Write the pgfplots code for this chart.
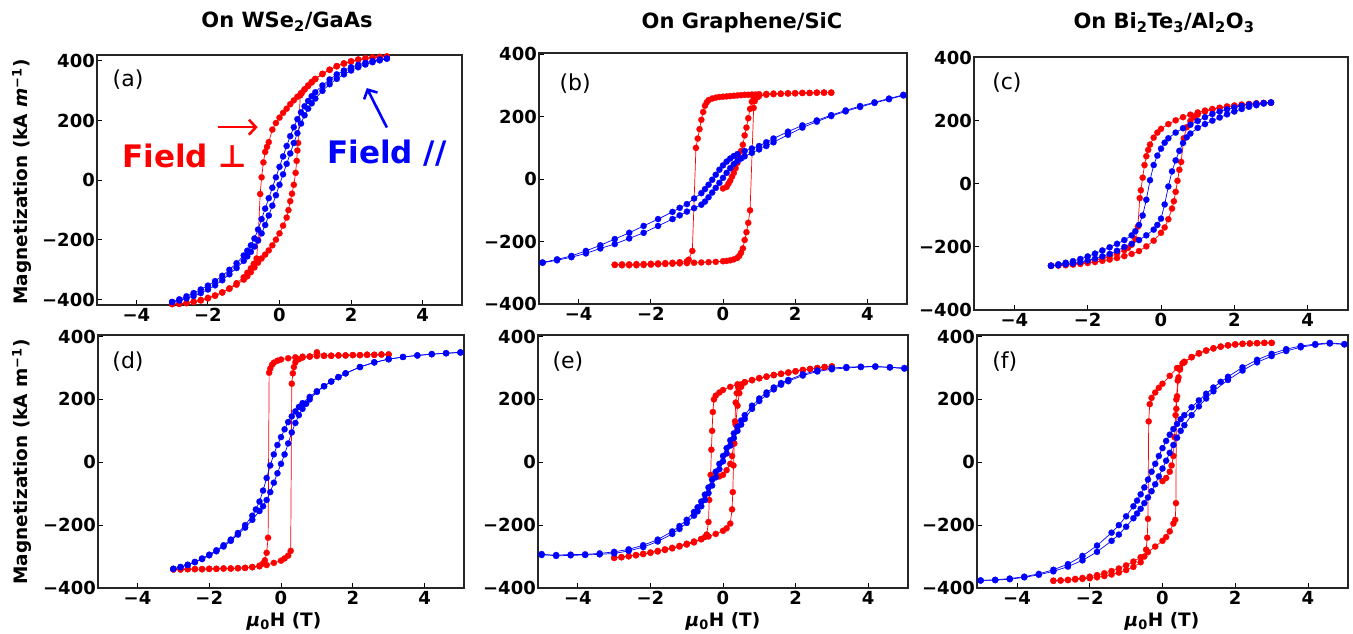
\documentclass[border=0pt]{standalone}
\usepackage{fontspec}
\setmainfont{DejaVu Sans}
\usepackage{pgfplots}
\pgfplotsset{compat=1.18}
\usetikzlibrary{arrows.meta}
\definecolor{mred}{RGB}{255,0,0}
\definecolor{mblue}{RGB}{0,0,255}
\pgfplotsset{
 panel/.style={scale only axis, xmin=-5.1, xmax=5.1,
   xtick={-4,-2,0,2,4}, xticklabels={−4,−2,0,2,4},
   ytick={-400,-200,0,200,400}, yticklabels={−400,−200,0,200,400},
   tick align=inside, xtick pos=bottom, ytick pos=left,
   major tick length=5pt, tick style={black, line width=1pt},
   axis line style={line width=1.3pt, black!85},
   ticklabel style={font=\fontsize{18}{20}\selectfont\bfseries},
   yticklabel style={inner sep=2pt}, xticklabel style={inner sep=3pt}},
 rs/.style={mred, line width=0.7pt, mark=*, mark size=3.1pt, mark options={line width=0.2pt}},
 bs/.style={mblue, line width=0.7pt, mark=*, mark size=3.1pt, mark options={line width=0.2pt}},
}
\tikzset{plab/.style={font=\fontsize{22}{24}\selectfont\mdseries}}
\begin{document}
\begin{tikzpicture}
\useasboundingbox (0,0) rectangle (1353pt,634pt);
% ---------- (a)
\begin{axis}[panel, at={(97pt,329pt)}, anchor=south west, width=365pt, height=250pt, ymin=-418, ymax=420]
\addplot[rs] coordinates {(3.0,415) (2.8,414) (2.6,412) (2.4,409) (2.2,405) (2.0,399) (1.8,392) (1.6,383) (1.4,371) (1.2,357) (1.0,340) (0.9,330) (0.8,318) (0.7,305) (0.6,292) (0.5,280) (0.4,268) (0.3,255) (0.2,240) (0.1,226) (0.0,210) (-0.1,192) (-0.2,170) (-0.3,128) (-0.35,112) (-0.4,95) (-0.45,60) (-0.5,10) (-0.54,-46) (-0.6,-200) (-0.64,-262) (-0.72,-280) (-0.8,-295) (-0.9,-310) (-1.0,-325) (-1.2,-345) (-1.4,-362) (-1.6,-376) (-1.8,-387) (-2.0,-396) (-2.2,-403) (-2.4,-408) (-2.6,-412) (-2.8,-414) (-3.0,-415)};
\addplot[rs] coordinates {(-3.0,-415) (-2.8,-414) (-2.6,-411) (-2.4,-407) (-2.2,-401) (-2.0,-394) (-1.8,-386) (-1.6,-376) (-1.4,-364) (-1.2,-350) (-1.0,-333) (-0.9,-322) (-0.8,-308) (-0.7,-292) (-0.6,-276) (-0.5,-262) (-0.4,-249) (-0.3,-235) (-0.2,-218) (-0.1,-199) (0.0,-178) (0.1,-152) (0.2,-125) (0.25,-100) (0.3,-70) (0.35,-45) (0.4,-15) (0.45,25) (0.48,65) (0.5,100) (0.52,125) (0.58,285) (0.62,292) (0.7,304) (0.8,316) (0.9,328) (1.0,339) (1.2,356) (1.4,370) (1.6,382) (1.8,391) (2.0,398) (2.2,404) (2.4,408) (2.6,411) (2.8,413) (3.0,415)};
\addplot[bs] coordinates {(3.0,408) (2.8,405) (2.6,400) (2.4,394) (2.2,387) (2.0,379) (1.8,368) (1.6,355) (1.4,338) (1.2,318) (1.0,295) (0.9,282) (0.8,266) (0.7,248) (0.6,228) (0.5,205) (0.4,178) (0.3,148) (0.2,115) (0.1,80) (0.0,45) (-0.1,10) (-0.2,-25) (-0.3,-60) (-0.4,-95) (-0.5,-130) (-0.6,-165) (-0.7,-195) (-0.8,-218) (-0.9,-236) (-1.0,-252) (-1.2,-278) (-1.4,-300) (-1.6,-320) (-1.8,-338) (-2.0,-353) (-2.2,-366) (-2.4,-378) (-2.6,-389) (-2.8,-399) (-3.0,-408)};
\addplot[bs] coordinates {(-3.0,-408) (-2.8,-403) (-2.6,-396) (-2.4,-388) (-2.2,-378) (-2.0,-366) (-1.8,-352) (-1.6,-335) (-1.4,-315) (-1.2,-294) (-1.0,-270) (-0.9,-255) (-0.8,-240) (-0.7,-222) (-0.6,-202) (-0.5,-178) (-0.4,-150) (-0.3,-118) (-0.2,-85) (-0.1,-50) (0.0,-15) (0.1,20) (0.2,55) (0.3,90) (0.4,125) (0.5,158) (0.6,190) (0.7,218) (0.8,240) (0.9,258) (1.0,274) (1.2,300) (1.4,322) (1.6,340) (1.8,355) (2.0,368) (2.2,379) (2.4,388) (2.6,396) (2.8,402) (3.0,408)};
\node[plab] at (rel axis cs:0.085,0.9) {(a)};
\node[mred, font=\fontsize{31}{33}\selectfont\bfseries] at (axis cs:-2.65,83) {Field ⊥};
\node[mblue, font=\fontsize{31}{33}\selectfont\bfseries] at (axis cs:3.0,90) {Field //};
\draw[mred, line width=2.6pt, -{Straight Barb[length=7pt,width=15pt]}] (axis cs:-1.73,178) -- (axis cs:-0.61,178);
\draw[mblue, line width=2.6pt, -{Straight Barb[length=7pt,width=15pt]}] (axis cs:3.0,177) -- (axis cs:2.44,309);
\end{axis}
% ---------- (b)
\begin{axis}[panel, at={(539pt,330pt)}, anchor=south west, width=368pt, height=251pt, ymin=-400, ymax=404]
\addplot[rs] coordinates {(3.0,277) (2.8,277) (2.6,277) (2.4,276) (2.2,276) (2.0,275) (1.8,275) (1.6,274) (1.4,274) (1.2,273) (1.0,272) (0.9,271) (0.8,271) (0.7,270) (0.6,270) (0.5,269) (0.4,268) (0.3,267) (0.2,266) (0.1,265) (0.0,264) (-0.1,263) (-0.2,261) (-0.3,258) (-0.4,253) (-0.45,246) (-0.5,235) (-0.55,215) (-0.6,190) (-0.65,160) (-0.7,130) (-0.75,100) (-0.85,-230) (-0.95,-258) (-1.0,-263) (-1.2,-266) (-1.4,-268) (-1.6,-269) (-1.8,-270) (-2.0,-271) (-2.2,-272) (-2.4,-272) (-2.6,-273) (-2.8,-273) (-3.0,-274)};
\addplot[rs] coordinates {(-3.0,-275) (-2.8,-276) (-2.6,-276) (-2.4,-276) (-2.2,-275) (-2.0,-274) (-1.8,-273) (-1.6,-272) (-1.4,-271) (-1.2,-270) (-1.0,-269) (-0.8,-268) (-0.6,-267) (-0.4,-266) (-0.2,-265) (0.0,-263) (0.1,-262) (0.2,-260) (0.3,-257) (0.4,-252) (0.45,-246) (0.5,-236) (0.55,-222) (0.6,-195) (0.65,-170) (0.7,-140) (0.75,-100) (0.85,228) (0.88,250) (0.95,262) (1.0,266) (1.2,270) (1.4,272) (1.6,273) (1.8,274) (2.0,275) (2.2,276) (2.4,276) (2.6,277) (2.8,277) (3.0,277)};
\addplot[rs] coordinates {(0.0,-30) (0.1,-25) (0.15,-15) (0.2,-5) (0.25,8) (0.3,20) (0.35,35) (0.4,52) (0.45,70) (0.5,90) (0.55,110) (0.6,140) (0.65,165) (0.7,195) (0.75,225) (0.8,248) (0.85,260) (0.9,266)};
\addplot[bs] coordinates {(5.0,270) (4.6,258) (4.2,246) (3.8,234) (3.4,220) (3.0,205) (2.6,188) (2.2,172) (1.8,152) (1.4,130) (1.2,118) (1.0,106) (0.8,98) (0.6,90) (0.4,80) (0.3,74) (0.2,66) (0.1,56) (0.0,44) (-0.1,30) (-0.2,14) (-0.3,-2) (-0.4,-18) (-0.5,-32) (-0.6,-45) (-0.8,-62) (-1.0,-80) (-1.2,-92) (-1.4,-105) (-1.8,-128) (-2.2,-150) (-2.6,-172) (-3.0,-192) (-3.4,-212) (-3.8,-230) (-4.2,-246) (-4.6,-257) (-5.0,-267)};
\addplot[bs] coordinates {(-5.0,-268) (-4.6,-260) (-4.2,-250) (-3.8,-238) (-3.4,-222) (-3.0,-208) (-2.6,-190) (-2.2,-172) (-1.8,-150) (-1.4,-128) (-1.2,-116) (-1.0,-104) (-0.8,-93) (-0.6,-82) (-0.5,-72) (-0.4,-58) (-0.3,-43) (-0.2,-28) (-0.1,-12) (0.0,4) (0.1,20) (0.2,35) (0.3,48) (0.4,58) (0.5,66) (0.6,73) (0.8,84) (1.0,95) (1.2,106) (1.4,118) (1.8,142) (2.2,165) (2.6,184) (3.0,202) (3.4,217) (3.8,231) (4.2,244) (4.6,256) (5.0,268)};
\node[plab] at (rel axis cs:0.098,0.88) {(b)};
\end{axis}
% ---------- (c)
\begin{axis}[panel, at={(974pt,324pt)}, anchor=south west, width=374pt, height=253pt, ymin=-400, ymax=403]
\addplot[rs] coordinates {(3.0,258) (2.8,257) (2.6,256) (2.4,254) (2.2,252) (2.0,249) (1.8,246) (1.6,242) (1.4,238) (1.2,233) (1.0,227) (0.8,220) (0.6,212) (0.4,202) (0.2,190) (0.0,175) (-0.1,163) (-0.2,147) (-0.3,125) (-0.35,108) (-0.4,88) (-0.45,60) (-0.5,20) (-0.55,-20) (-0.58,-45) (-0.63,-135) (-0.7,-175) (-0.8,-193) (-0.9,-203) (-1.0,-210) (-1.2,-221) (-1.4,-230) (-1.6,-237) (-1.8,-242) (-2.0,-247) (-2.2,-251) (-2.4,-254) (-2.6,-256) (-2.8,-258) (-3.0,-259)};
\addplot[rs] coordinates {(-3.0,-260) (-2.8,-259) (-2.6,-258) (-2.4,-256) (-2.2,-254) (-2.0,-251) (-1.8,-248) (-1.6,-244) (-1.4,-240) (-1.2,-235) (-1.0,-229) (-0.8,-222) (-0.6,-213) (-0.4,-198) (-0.2,-180) (0.0,-155) (0.1,-138) (0.2,-112) (0.3,-78) (0.35,-55) (0.4,-25) (0.45,10) (0.5,45) (0.55,70) (0.62,145) (0.7,180) (0.8,200) (0.9,212) (1.0,220) (1.2,230) (1.4,236) (1.6,241) (1.8,245) (2.0,248) (2.2,251) (2.4,253) (2.6,255) (2.8,257) (3.0,258)};
\addplot[bs] coordinates {(3.0,259) (2.8,257) (2.6,255) (2.4,252) (2.2,248) (2.0,243) (1.8,237) (1.6,230) (1.4,222) (1.2,212) (1.0,200) (0.8,188) (0.6,177) (0.4,163) (0.2,145) (0.1,131) (0.0,112) (-0.1,90) (-0.2,60) (-0.3,12) (-0.4,-50) (-0.5,-100) (-0.6,-130) (-0.7,-150) (-0.8,-163) (-1.0,-178) (-1.2,-190) (-1.4,-201) (-1.6,-211) (-1.8,-221) (-2.0,-230) (-2.2,-238) (-2.4,-245) (-2.6,-250) (-2.8,-255) (-3.0,-259)};
\addplot[bs] coordinates {(-3.0,-260) (-2.8,-258) (-2.6,-255) (-2.4,-252) (-2.2,-248) (-2.0,-243) (-1.8,-237) (-1.6,-230) (-1.4,-222) (-1.2,-212) (-1.0,-200) (-0.8,-190) (-0.6,-178) (-0.4,-163) (-0.2,-145) (-0.1,-130) (0.0,-110) (0.1,-65) (0.2,-8) (0.3,40) (0.4,75) (0.5,105) (0.6,130) (0.7,148) (0.8,160) (1.0,178) (1.2,190) (1.4,201) (1.6,211) (1.8,221) (2.0,230) (2.2,238) (2.4,245) (2.6,250) (2.8,255) (3.0,258)};
\node[plab] at (rel axis cs:0.088,0.897) {(c)};
\end{axis}
% ---------- (d)
\begin{axis}[panel, at={(98pt,46pt)}, anchor=south west, width=366pt, height=253pt, ymin=-400, ymax=405]
\addplot[rs] coordinates {(3.0,343) (2.8,343) (2.6,342) (2.4,342) (2.2,341) (2.0,341) (1.8,340) (1.6,340) (1.4,339) (1.2,339) (1.0,350) (0.8,337) (0.6,336) (0.4,334) (0.2,331) (0.0,327) (-0.1,323) (-0.2,317) (-0.25,310) (-0.3,298) (-0.33,285) (-0.36,-240) (-0.4,-288) (-0.45,-312) (-0.5,-322) (-0.6,-329) (-0.8,-333) (-1.0,-336) (-1.2,-337) (-1.4,-338) (-1.6,-338) (-1.8,-339) (-2.0,-339) (-2.2,-340) (-2.4,-340) (-2.6,-340) (-2.8,-341) (-3.0,-341)};
\addplot[rs] coordinates {(-3.0,-341) (-2.8,-341) (-2.6,-340) (-2.4,-340) (-2.2,-340) (-2.0,-339) (-1.8,-339) (-1.6,-338) (-1.4,-338) (-1.2,-337) (-1.0,-336) (-0.8,-334) (-0.6,-331) (-0.4,-327) (-0.2,-320) (0.0,-313) (0.1,-306) (0.2,-297) (0.27,-282) (0.3,250) (0.33,283) (0.36,303) (0.4,318) (0.5,328) (0.6,333) (0.8,336) (1.0,338) (1.2,339) (1.4,339) (1.6,340) (1.8,340) (2.0,341) (2.2,341) (2.4,342) (2.6,342) (2.8,343) (3.0,343)};
\addplot[bs] coordinates {(5.0,350) (4.6,347) (4.2,344) (3.8,340) (3.4,335) (3.0,328) (2.6,318) (2.2,303) (1.8,283) (1.6,271) (1.4,257) (1.2,242) (1.0,226) (0.8,208) (0.6,188) (0.5,176) (0.4,162) (0.3,146) (0.2,128) (0.1,105) (0.0,80) (-0.1,55) (-0.2,25) (-0.3,-10) (-0.4,-50) (-0.5,-90) (-0.6,-125) (-0.7,-150) (-0.8,-170) (-1.0,-200) (-1.2,-225) (-1.4,-246) (-1.6,-264) (-1.8,-280) (-2.0,-294) (-2.2,-306) (-2.4,-317) (-2.6,-326) (-2.8,-333) (-3.0,-339)};
\addplot[bs] coordinates {(-3.0,-339) (-2.8,-334) (-2.6,-327) (-2.4,-318) (-2.2,-308) (-2.0,-296) (-1.8,-283) (-1.6,-268) (-1.4,-250) (-1.2,-230) (-1.0,-208) (-0.8,-183) (-0.6,-155) (-0.5,-140) (-0.4,-120) (-0.3,-95) (-0.2,-65) (-0.1,-35) (0.0,-5) (0.1,25) (0.2,60) (0.3,95) (0.4,125) (0.5,150) (0.6,170) (0.7,186) (0.8,200) (1.0,224) (1.2,242) (1.4,257) (1.6,271) (1.8,283) (2.2,303) (2.6,318) (3.0,328) (3.4,335) (3.8,340) (4.2,344) (4.6,347) (5.0,349)};
\node[plab] at (rel axis cs:0.082,0.893) {(d)};
\end{axis}
% ---------- (e)
\begin{axis}[panel, at={(538pt,46pt)}, anchor=south west, width=370pt, height=253pt, ymin=-400, ymax=405]
\addplot[rs] coordinates {(3.0,305) (2.8,303) (2.6,300) (2.4,297) (2.2,294) (2.0,290) (1.8,286) (1.6,282) (1.4,278) (1.2,273) (1.0,268) (0.8,262) (0.6,255) (0.4,248) (0.2,240) (0.0,230) (-0.1,222) (-0.2,212) (-0.25,200) (-0.28,160) (-0.3,100) (-0.32,40) (-0.34,-40) (-0.38,-120) (-0.4,-190) (-0.45,-230) (-0.5,-238) (-0.6,-245) (-0.8,-255) (-1.0,-262) (-1.2,-268) (-1.4,-274) (-1.6,-279) (-1.8,-284) (-2.0,-288) (-2.2,-292) (-2.4,-296) (-2.6,-299) (-2.8,-302) (-3.0,-304)};
\addplot[rs] coordinates {(-3.0,-304) (-2.8,-302) (-2.6,-299) (-2.4,-295) (-2.2,-291) (-2.0,-287) (-1.8,-282) (-1.6,-277) (-1.4,-272) (-1.2,-266) (-1.0,-259) (-0.8,-252) (-0.6,-244) (-0.4,-236) (-0.2,-228) (0.0,-218) (0.1,-210) (0.2,-195) (0.25,-150) (0.27,-95) (0.29,-10) (0.31,60) (0.33,130) (0.35,190) (0.38,220) (0.42,238) (0.5,248) (0.6,254) (0.8,261) (1.0,267) (1.2,272) (1.4,277) (1.6,281) (1.8,285) (2.0,289) (2.2,293) (2.4,297) (2.6,300) (2.8,303) (3.0,305)};
\addplot[rs] coordinates {(-0.1,-45) (0.0,-40) (0.1,-25) (0.2,-5) (0.25,20) (0.3,60) (0.35,120) (0.4,180) (0.45,220) (0.5,240)};
\addplot[bs] coordinates {(5.0,300) (4.6,302) (4.2,305) (3.8,304) (3.4,303) (3.0,300) (2.6,292) (2.2,280) (1.8,262) (1.6,252) (1.4,238) (1.2,222) (1.0,203) (0.8,180) (0.6,150) (0.5,133) (0.4,113) (0.3,92) (0.2,70) (0.1,45) (0.0,20) (-0.1,-5) (-0.2,-30) (-0.3,-55) (-0.4,-80) (-0.5,-103) (-0.6,-125) (-0.7,-143) (-0.8,-158) (-1.0,-183) (-1.2,-203) (-1.4,-220) (-1.8,-246) (-2.2,-264) (-2.6,-277) (-3.0,-285) (-3.4,-290) (-3.8,-293) (-4.2,-294) (-4.6,-295) (-5.0,-295)};
\addplot[bs] coordinates {(-5.0,-292) (-4.6,-298) (-4.2,-296) (-3.8,-295) (-3.4,-293) (-3.0,-290) (-2.6,-282) (-2.2,-270) (-1.8,-252) (-1.4,-228) (-1.2,-212) (-1.0,-193) (-0.8,-170) (-0.7,-156) (-0.6,-140) (-0.5,-120) (-0.4,-98) (-0.3,-74) (-0.2,-48) (-0.1,-22) (0.0,3) (0.1,28) (0.2,53) (0.3,77) (0.4,100) (0.5,120) (0.6,138) (0.8,170) (1.0,195) (1.2,215) (1.4,232) (1.6,247) (1.8,258) (2.2,276) (2.6,289) (3.0,296) (3.4,300) (3.8,303) (4.2,304) (4.6,302) (5.0,298)};
\node[plab] at (rel axis cs:0.081,0.893) {(e)};
\end{axis}
% ---------- (f)
\begin{axis}[panel, at={(977pt,46pt)}, anchor=south west, width=371pt, height=253pt, ymin=-400, ymax=405]
\addplot[rs] coordinates {(3.0,380) (2.8,380) (2.6,379) (2.4,378) (2.2,377) (2.0,375) (1.8,372) (1.6,368) (1.4,362) (1.2,355) (1.0,346) (0.8,334) (0.6,318) (0.4,300) (0.2,275) (0.0,250) (-0.1,237) (-0.2,222) (-0.3,205) (-0.35,185) (-0.38,130) (-0.4,-180) (-0.42,-240) (-0.45,-278) (-0.5,-300) (-0.6,-318) (-0.8,-333) (-1.0,-343) (-1.2,-351) (-1.4,-357) (-1.6,-362) (-1.8,-366) (-2.0,-369) (-2.2,-371) (-2.4,-373) (-2.6,-375) (-2.8,-376) (-3.0,-377)};
\addplot[rs] coordinates {(-3.0,-377) (-2.8,-376) (-2.6,-374) (-2.4,-371) (-2.2,-368) (-2.0,-364) (-1.8,-359) (-1.6,-353) (-1.4,-346) (-1.2,-338) (-1.0,-328) (-0.8,-316) (-0.6,-302) (-0.4,-286) (-0.2,-268) (0.0,-250) (0.1,-238) (0.2,-220) (0.3,-195) (0.35,-183) (0.37,-130) (0.38,170) (0.4,210) (0.44,270) (0.48,295) (0.55,315) (0.6,320) (0.8,335) (1.0,347) (1.2,356) (1.4,363) (1.6,368) (1.8,372) (2.0,375) (2.2,377) (2.4,378) (2.6,379) (2.8,380) (3.0,380)};
\addplot[rs] coordinates {(0.0,-60) (0.1,-50) (0.2,-30) (0.25,-10) (0.3,20) (0.33,80) (0.36,150) (0.38,200) (0.42,260) (0.48,300)};
\addplot[bs] coordinates {(5.0,376) (4.6,380) (4.2,376) (3.8,370) (3.4,360) (3.0,345) (2.6,326) (2.2,302) (1.8,272) (1.6,256) (1.4,238) (1.2,218) (1.0,197) (0.8,175) (0.6,150) (0.5,137) (0.4,122) (0.3,106) (0.2,88) (0.1,68) (0.0,45) (-0.1,20) (-0.2,-5) (-0.3,-30) (-0.4,-55) (-0.5,-80) (-0.6,-102) (-0.7,-122) (-0.8,-140) (-1.0,-172) (-1.2,-200) (-1.4,-224) (-1.8,-265) (-2.2,-298) (-2.6,-324) (-3.0,-342) (-3.4,-355) (-3.8,-364) (-4.2,-370) (-4.6,-374) (-5.0,-376)};
\addplot[bs] coordinates {(-5.0,-376) (-4.6,-375) (-4.2,-372) (-3.8,-366) (-3.4,-358) (-3.0,-347) (-2.6,-332) (-2.2,-312) (-1.8,-285) (-1.4,-250) (-1.2,-230) (-1.0,-205) (-0.8,-178) (-0.7,-163) (-0.6,-148) (-0.5,-130) (-0.4,-112) (-0.3,-92) (-0.2,-70) (-0.1,-45) (0.0,-20) (0.1,5) (0.2,30) (0.3,55) (0.4,78) (0.5,100) (0.6,118) (0.8,150) (1.0,178) (1.2,203) (1.4,226) (1.8,262) (2.2,292) (2.6,318) (3.0,338) (3.4,354) (3.8,366) (4.2,374) (4.6,378) (5.0,375)};
\node[plab] at (rel axis cs:0.075,0.893) {(f)};
\end{axis}
% ---------- titles and labels
\node[font=\fontsize{21}{24}\selectfont\bfseries] at (287pt,612pt) {On WSe\textsubscript{2}/GaAs};
\node[font=\fontsize{21}{24}\selectfont\bfseries] at (742pt,611pt) {On Graphene/SiC};
\node[font=\fontsize{21}{24}\selectfont\bfseries] at (1164pt,611pt) {On Bi\textsubscript{2}Te\textsubscript{3}/Al\textsubscript{2}O\textsubscript{3}};
\node[rotate=90, font=\fontsize{18.5}{20}\selectfont\bfseries] at (22pt,452pt) {Magnetization (kA \textit{m}\textsuperscript{−1})};
\node[rotate=90, font=\fontsize{18.5}{20}\selectfont\bfseries] at (22pt,172pt) {Magnetization (kA m\textsuperscript{−1})};
\node[font=\fontsize{18.5}{20}\selectfont\bfseries] at (284pt,13pt) {\textit{μ}\textsubscript{0}H (T)};
\node[font=\fontsize{18.5}{20}\selectfont\bfseries] at (723pt,13pt) {\textit{μ}\textsubscript{0}H (T)};
\node[font=\fontsize{18.5}{20}\selectfont\bfseries] at (1162pt,13pt) {\textit{μ}\textsubscript{0}H (T)};
\end{tikzpicture}
\end{document}
